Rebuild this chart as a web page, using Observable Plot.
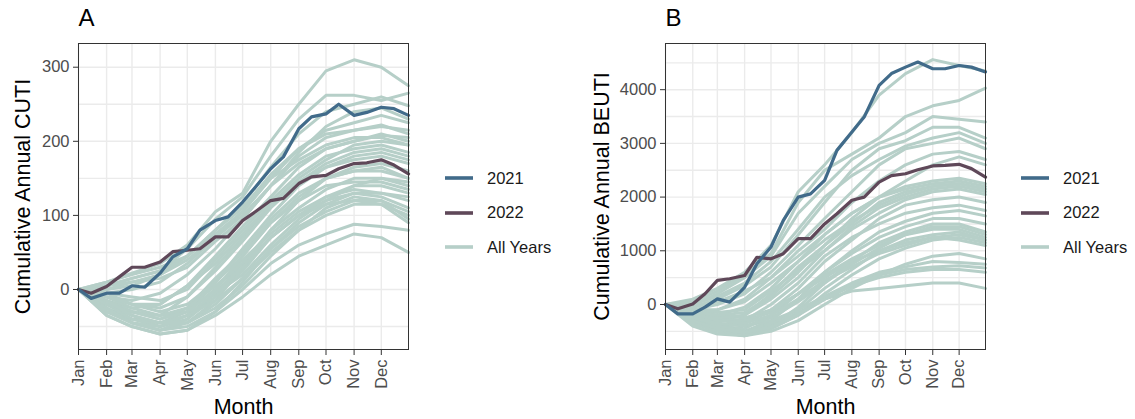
<!DOCTYPE html>
<html><head><meta charset="utf-8">
<script src="https://cdn.jsdelivr.net/npm/d3@7"></script>
<script src="https://cdn.jsdelivr.net/npm/@observablehq/plot@0.6"></script>
<style>
body{margin:0;background:#fff;font-family:"Liberation Sans",Arial,sans-serif;}
#wrap{position:relative;width:1135px;height:419px;overflow:hidden;background:#fff}
.panel{position:absolute;top:0}
.legend{position:absolute;font-size:16.5px;color:#1a1a1a;font-family:"Liberation Sans",Arial,sans-serif}
.legend .row{position:absolute;left:0;display:flex;align-items:center;white-space:nowrap;height:20px}
.legend svg{display:block;margin-right:14px}
</style></head>
<body><div id="wrap"></div>
<script>
// ---- data ----
const sampleDays = [1,15,32,46,60,74,91,105,121,135,152,166,182,196,213,227,244,258,274,288,305,319,335,349,365];
const monthDays  = [1,32,60,91,121,152,182,213,244,274,305,335,365];

const cuti2021 = [0,-12,-5,-5,5,3,22,44,55,80,93,98,118,138,163,179,217,233,237,250,235,239,246,244,235];
const cuti2022 = [0,-5,4,17,30,30,37,51,53,55,71,71,93,105,120,123,143,152,154,163,170,171,175,168,156];
const beuti2021 = [0,-175,-175,-50,105,45,320,760,1070,1565,2000,2060,2310,2870,3210,3490,4080,4300,4420,4515,4390,4390,4450,4420,4330];
const beuti2022 = [0,-80,10,200,450,480,540,880,850,945,1225,1225,1500,1690,1940,2000,2280,2400,2435,2510,2580,2590,2610,2530,2370];

const cutiAllYears = [
  [0,10,22,35,60,105,130,200,250,295,310,300,275],
  [0,5,15,25,55,95,125,180,230,262,262,255,265],
  [0,0,5,20,45,80,115,165,210,240,250,260,248],
  [0,-5,0,10,35,70,105,150,190,215,225,235,225],
  [0,-10,-15,-5,20,55,95,140,180,205,215,220,215],
  [0,-15,-25,-20,5,45,85,125,165,190,200,208,205],
  [0,-20,-30,-35,-10,30,70,115,150,175,195,200,195],
  [0,-5,-10,-15,0,40,80,120,155,180,190,195,185],
  [0,-25,-40,-45,-30,10,55,100,140,165,180,185,175],
  [0,-10,-20,-25,-10,25,65,110,145,165,175,180,170],
  [0,-30,-45,-55,-45,-15,30,80,120,150,165,170,160],
  [0,-15,-30,-40,-25,15,50,95,130,150,160,160,150],
  [0,-20,-35,-50,-40,-5,35,80,110,135,150,150,140],
  [0,-5,-20,-30,-20,10,45,90,120,140,145,145,135],
  [0,-35,-50,-60,-55,-30,10,55,90,115,130,130,120],
  [0,-25,-45,-55,-40,-10,25,70,100,120,130,125,110],
  [0,-10,-25,-35,-30,0,40,75,105,125,135,130,125],
  [0,-30,-40,-45,-45,-20,15,50,80,100,115,115,100],
  [0,-35,-50,-60,-55,-35,-10,20,45,60,75,70,50],
  [0,-25,-45,-55,-50,-30,0,35,60,75,88,85,80],
  [0,-15,-30,-35,-25,5,35,70,100,115,120,115,90],
  [0,-20,-40,-50,-35,-5,20,60,95,120,140,150,145],
  [0,0,10,20,40,70,100,140,170,190,200,210,200],
  [0,5,15,25,45,80,110,155,190,210,215,222,210],
  [0,-10,-20,-20,5,35,75,115,145,170,185,190,180],
  [0,-30,-45,-50,-35,-5,30,70,100,125,140,140,130],
  [0,-20,-35,-45,-35,-15,15,55,85,105,120,120,105],
  [0,5,10,15,30,65,95,140,185,220,240,245,230],
  [0,-20,-30,-40,-30,0,45,90,125,150,160,165,150],
  [0,-15,-35,-45,-45,-25,5,45,80,110,125,120,95],
  [0,10,20,30,45,75,105,150,175,195,205,205,195]
];

const beutiAllYears = [
  [0,100,300,600,1100,2100,2600,3200,3900,4300,4560,4450,4350],
  [0,50,250,550,950,1900,2500,2800,3100,3500,3700,3800,4030],
  [0,0,200,500,900,1700,2200,2700,3000,3200,3500,3450,3400],
  [0,-50,100,350,700,1300,1900,2500,2900,3050,3300,3300,3100],
  [0,-100,0,200,600,1100,1600,2100,2600,2900,3000,3100,2900],
  [0,-150,-100,100,500,1000,1400,1900,2300,2600,2800,2850,2700],
  [0,-200,-200,-50,300,800,1300,1700,2000,2200,2300,2350,2250],
  [0,-250,-300,-200,200,700,1100,1500,1900,2100,2200,2250,2150],
  [0,-100,-150,-100,250,650,1000,1400,1700,1950,2100,2150,2050],
  [0,-300,-400,-350,-100,300,800,1200,1600,1850,1950,2000,1900],
  [0,-200,-300,-300,0,400,900,1250,1500,1700,1800,1850,1750],
  [0,-350,-450,-500,-300,100,600,1000,1350,1550,1700,1750,1650],
  [0,-250,-400,-450,-200,200,600,950,1250,1450,1600,1600,1500],
  [0,-300,-450,-550,-400,-50,400,800,1150,1350,1500,1500,1350],
  [0,-150,-250,-300,-150,200,550,850,1100,1300,1400,1400,1250],
  [0,-350,-500,-580,-450,-200,200,550,850,1050,1200,1250,1150],
  [0,-300,-400,-500,-350,-100,300,650,1000,1200,1300,1350,1200],
  [0,-200,-350,-400,-300,-100,150,400,600,700,800,780,750],
  [0,-350,-500,-580,-450,-200,100,250,300,350,400,400,300],
  [0,-250,-400,-500,-400,-150,100,350,500,600,650,650,600],
  [0,-300,-450,-520,-420,-180,100,350,550,650,700,720,680],
  [0,-100,-200,-250,-100,200,500,800,1000,1150,1250,1200,1100],
  [0,-50,50,250,500,900,1300,1700,2000,2150,2250,2300,2200],
  [0,-200,-250,-200,100,500,1000,1450,1800,2000,2150,2200,2100],
  [0,-150,-200,-150,150,600,1100,1600,2000,2300,2600,2750,2600],
  [0,0,150,400,800,1400,2000,2400,2700,2950,3100,3200,3000],
  [0,-250,-350,-400,-250,50,400,750,1050,1300,1450,1450,1300],
  [0,-100,-100,50,400,800,1200,1550,1850,2050,2200,2250,2150],
  [0,-400,-550,-580,-500,-300,0,300,550,750,900,950,850],
  [0,-150,-300,-350,-200,100,450,700,950,1100,1250,1300,1200]
];

const seriesNames = ["2021", "2022", "All Years"];
const cutiTicks = [0, 100, 200, 300];
const cutiGrid = [-50, 0, 50, 100, 150, 200, 250, 300];
const beutiTicks = [0, 1000, 2000, 3000, 4000];
const beutiGrid = [-500, 0, 500, 1000, 1500, 2000, 2500, 3000, 3500, 4000, 4500];

// ---- styles ----
const colors = {"2021": "#416b8a", "2022": "#5f4859", "All Years": "#b6cfc8"};
const FONT = '"Liberation Sans", Arial, sans-serif';

const toDate = d => new Date(Date.UTC(2021, 0, d));
const months = d3.utcMonth.range(toDate(1), toDate(366));

function rows(vals, days, year) {
  return vals.map((v, j) => ({date: toDate(days[j]), value: v, year}));
}

function panel({y2021, y2022, all, yDomain, yTicks, yGrid, yTitle, letter, marginLeft, width, titleDx}) {
  const bg = all.flatMap((vals, i) => rows(vals, monthDays, "bg" + i));
  const l21 = rows(y2021, sampleDays, "2021");
  const l22 = rows(y2022, sampleDays, "2022");
  return Plot.plot({
    width, height: 419, marginLeft, marginRight: 10, marginTop: 43, marginBottom: 70,
    style: {fontFamily: FONT, fontSize: "16px", color: "#4d4d4d", background: "white", overflow: "visible"},
    x: {type: "utc", domain: [toDate(1), toDate(365)]},
    y: {domain: yDomain},
    marks: [
      Plot.gridX(months, {stroke: "#ebebeb", strokeOpacity: 1, strokeWidth: 1.4}),
      Plot.gridY(yGrid, {stroke: "#ebebeb", strokeOpacity: 1, strokeWidth: 1.4}),
      Plot.line(bg, {x: "date", y: "value", z: "year", stroke: colors["All Years"], strokeWidth: 3, curve: "linear"}),
      Plot.line(l22, {x: "date", y: "value", stroke: colors["2022"], strokeWidth: 3.2}),
      Plot.line(l21, {x: "date", y: "value", stroke: colors["2021"], strokeWidth: 3.2}),
      Plot.frame({stroke: "#333", strokeWidth: 1}),
      Plot.axisX(months, {tickFormat: "%b", tickRotate: -90, tickSize: 6, tickPadding: 4, stroke: "#333", fill: "#4d4d4d", label: null, fontSize: 16.5}),
      Plot.axisY(yTicks, {tickSize: 5, tickPadding: 4, stroke: "#333", fill: "#4d4d4d", label: null, fontSize: 16.5, tickFormat: d3.format("d")}),
      Plot.text([yTitle], {frameAnchor: "left", dx: titleDx, rotate: -90, textAnchor: "middle", lineAnchor: "middle", fontSize: 21.5, fill: "#000"}),
      Plot.text(["Month"], {frameAnchor: "bottom", dy: 58, lineAnchor: "middle", fontSize: 21.5, fill: "#000"}),
      Plot.text([letter], {frameAnchor: "top-left", dy: -25, textAnchor: "start", lineAnchor: "middle", fontSize: 24, fill: "#000"})
    ]
  });
}

function legend(left, top) {
  const div = document.createElement("div");
  div.className = "legend";
  div.style.left = left + "px";
  div.style.top = top + "px";
  seriesNames.forEach((name, i) => {
    const row = document.createElement("div");
    row.className = "row";
    row.style.top = (i * 34.5) + "px";
    row.innerHTML = `<svg width="28" height="8"><line x1="0" x2="28" y1="4" y2="4" stroke="${colors[name]}" stroke-width="3.6"/></svg><span>${name}</span>`;
    div.appendChild(row);
  });
  return div;
}

const wrap = document.getElementById("wrap");
const a = panel({y2021: cuti2021, y2022: cuti2022, all: cutiAllYears, yDomain: [-81, 332], yTicks: cutiTicks, yGrid: cutiGrid,
  yTitle: "Cumulative Annual CUTI", letter: "A", marginLeft: 78, width: 418, titleDx: -55});
a.classList.add("panel"); a.style.left = "0px";
wrap.appendChild(a);
const b = panel({y2021: beuti2021, y2022: beuti2022, all: beutiAllYears, yDomain: [-838, 4860], yTicks: beutiTicks, yGrid: beutiGrid,
  yTitle: "Cumulative Annual BEUTI", letter: "B", marginLeft: 85, width: 415, titleDx: -63});
b.classList.add("panel"); b.style.left = "580px";
wrap.appendChild(b);
wrap.appendChild(legend(445, 168));
wrap.appendChild(legend(1021, 168));
</script>
</body></html>
